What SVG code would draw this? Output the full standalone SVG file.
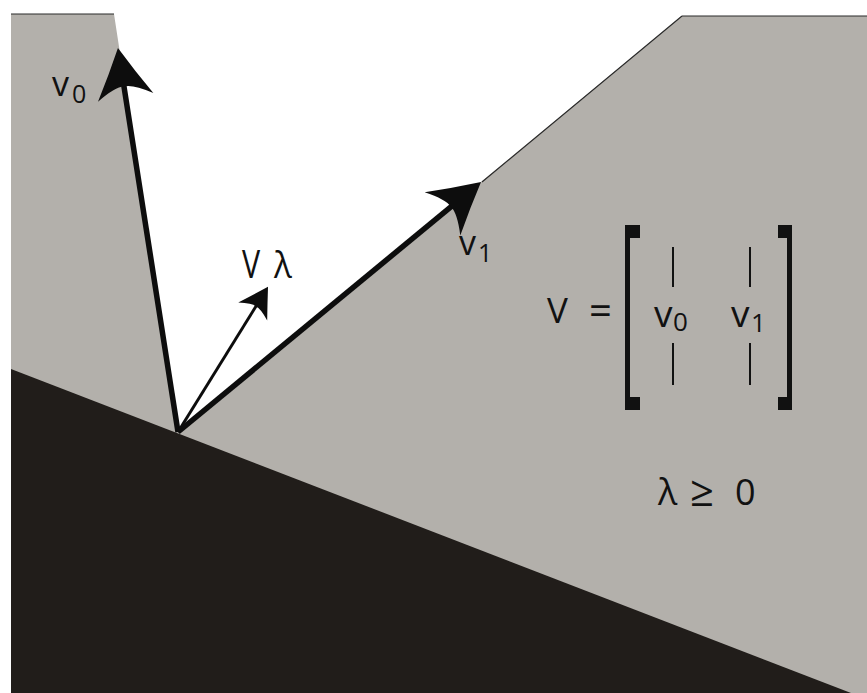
<svg xmlns="http://www.w3.org/2000/svg" width="867" height="693" viewBox="0 0 867 693">
<defs>
<style>
.t{font-family:"Open Sans","Liberation Sans",sans-serif;fill:#111;font-weight:500;}
.big{font-size:35px;}
.v{font-size:34px;}
.sub{font-size:25px;}
.vec{stroke:#0d0d0d;stroke-width:5.5;fill:none;stroke-linecap:butt;}
.thin{stroke:#0d0d0d;stroke-width:3;fill:none;}
.bar{stroke:#111;stroke-width:2;}
.br{fill:#111;}
</style>
<marker id="headBig" markerUnits="userSpaceOnUse" viewBox="-54 -32 58 64" markerWidth="58" markerHeight="64" refX="-34" refY="0" orient="auto">
<path d="M0,0 Q-25,-13 -50,-28 Q-38,-9 -39,0 Q-38,9 -50,28 Q-25,13 0,0 Z" fill="#0d0d0d"/>
</marker>
<marker id="headSmall" markerUnits="userSpaceOnUse" viewBox="-32 -20 36 40" markerWidth="36" markerHeight="40" refX="-19" refY="0" orient="auto">
<path d="M0,0 Q-14,-8 -29,-17 Q-22,-5 -23,0 Q-22,5 -29,17 Q-14,8 0,0 Z" fill="#0d0d0d"/>
</marker>
</defs>
<rect width="867" height="693" fill="#ffffff"/>
<g id="regions">
<path id="gray" d="M11,14 L114,14 L178,432 L682,16 L867,16 L867,693 L11,693 Z" fill="#b3b0ab"/>
<path d="M11,14 L114,14 M682,16 L867,16 M682,16 L482,182" stroke="#2a2a2a" stroke-width="1.2" fill="none"/>
<path id="black" d="M11,369 L851,693 L11,693 Z" fill="#211d1a"/>
</g>
<g id="connectors">
<line class="vec" x1="178" y1="432" x2="123.2" y2="81.6" marker-end="url(#headBig)"/>
<line class="vec" x1="178" y1="432" x2="454.8" y2="203.6" marker-end="url(#headBig)"/>
<line class="thin" x1="178" y1="432" x2="258" y2="303" marker-end="url(#headSmall)"/>
</g>
<g id="label-v0">
<text class="t v" x="52" y="96">v</text>
<text class="t sub" x="72" y="103">0</text>
</g>
<g id="label-v1">
<text class="t v" x="459" y="255">v</text>
<text class="t sub" x="478" y="262">1</text>
</g>
<g id="label-Vlambda">
<text class="t" font-size="38" transform="translate(242,278) scale(0.8,1)">V</text>
<text class="t" font-size="37" transform="translate(274,278) scale(0.9,1)">λ</text>
</g>
<g id="matrix">
<text class="t big" x="547" y="323">V</text>
<text class="t" font-size="40" x="589" y="325">=</text>
<path class="br" d="M625,225 H640 V238 H630 V397 H640 V410 H625 Z"/>
<path class="br" d="M792,225 H778 V238 H787 V397 H778 V410 H792 Z"/>
<line class="bar" x1="673" y1="247" x2="673" y2="287"/>
<line class="bar" x1="673" y1="343" x2="673" y2="385"/>
<line class="bar" x1="750" y1="247" x2="750" y2="287"/>
<line class="bar" x1="750" y1="343" x2="750" y2="385"/>
<text class="t" font-size="37" x="654" y="327">v</text>
<text class="t" font-size="26" x="673" y="331">0</text>
<text class="t" font-size="37" x="731" y="327">v</text>
<text class="t" font-size="26" x="751" y="332">1</text>
</g>
<g id="constraint">
<text class="t" font-size="36" x="658" y="505">λ</text>
<text class="t" font-size="42" x="690" y="506">≥</text>
<text class="t" font-size="36" x="735" y="505">0</text>
</g>
</svg>
